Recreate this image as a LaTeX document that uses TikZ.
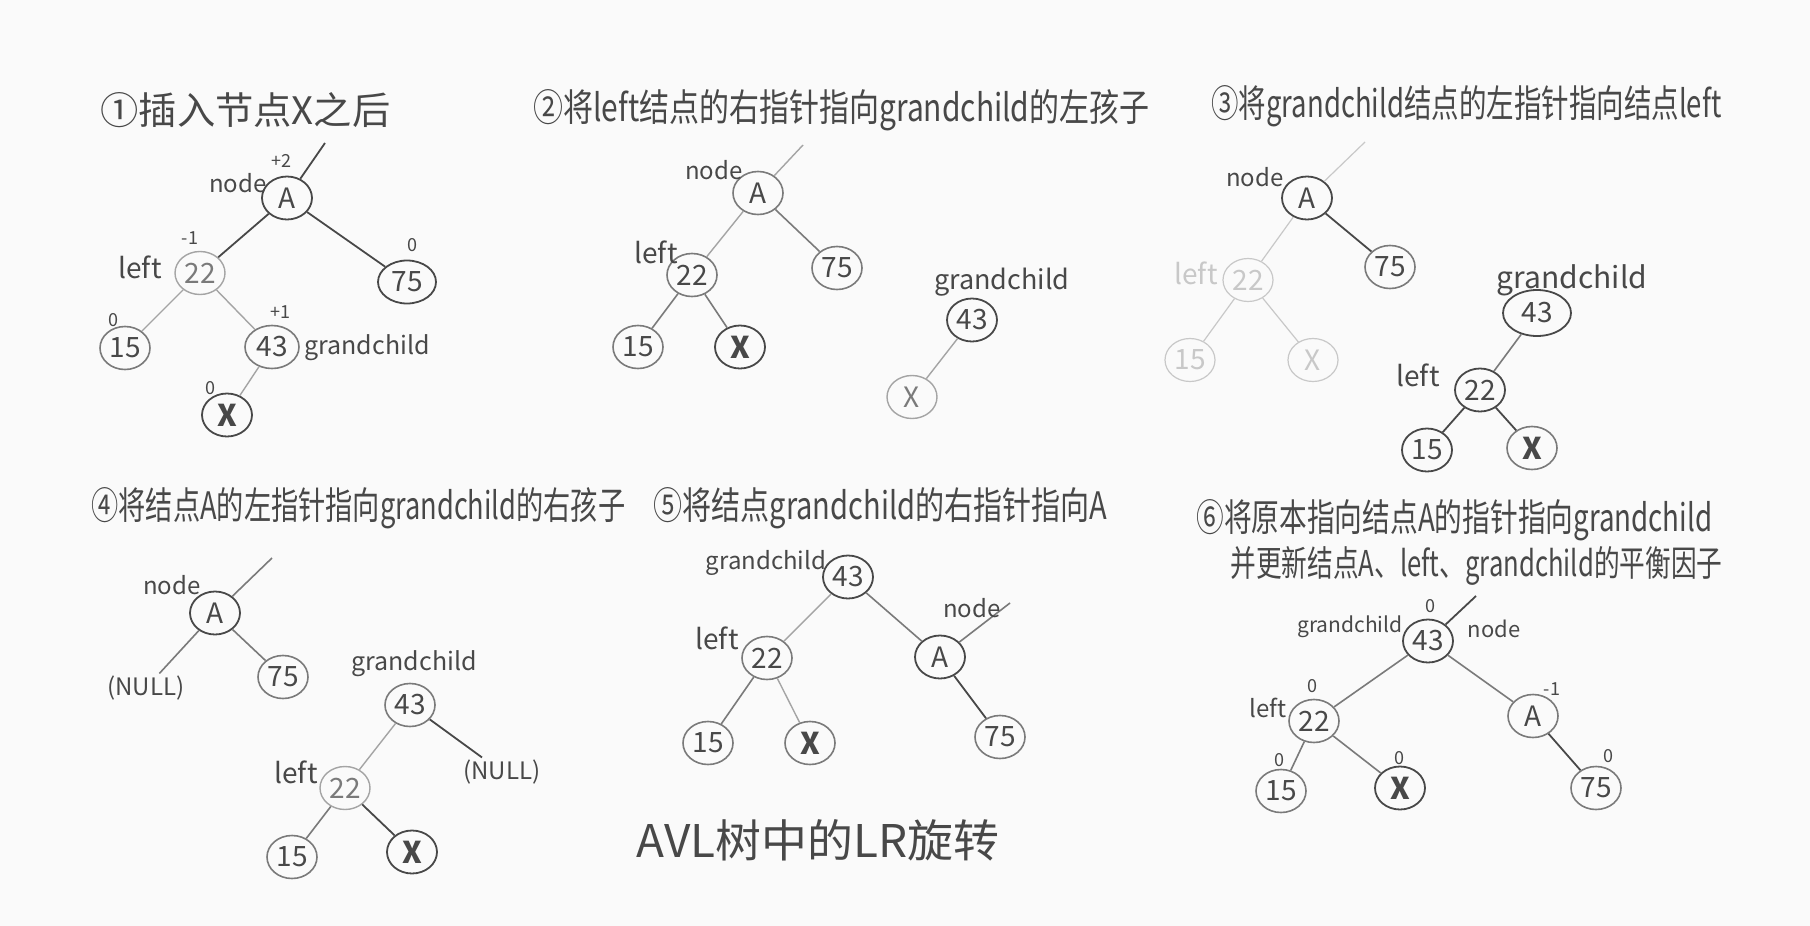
\documentclass[tikz,border=0pt]{standalone}
\usepackage{graphicx}
\usepackage{fontspec}
\setmainfont{Noto Sans CJK SC}
\usetikzlibrary{shapes.geometric}

\definecolor{paper}{HTML}{FAFAFA}
\definecolor{penD}{HTML}{484848}
\definecolor{penM}{HTML}{7A7A7A}
\definecolor{penL}{HTML}{A4A4A4}
\definecolor{penF}{HTML}{C8C8C8}

% fixed-size handwritten-style caption: width, height, text
\newcommand\fitbox[3]{\resizebox{#1}{#2}{#3}}

\tikzset{
  tn/.style={ellipse, draw=penM, line width=0.8pt, minimum width=25pt,
    minimum height=21.5pt, inner sep=0pt, text=penD,
    font=\fontsize{14}{14}\selectfont},
  dk/.style={draw=penD, text=penD, line width=0.9pt},
  md/.style={draw=penM, text=penD},
  lt/.style={draw=penL, text=penM, line width=0.7pt},
  fd/.style={draw=penF, text=penF, line width=0.6pt},
  xn/.style={font=\fontsize{15}{15}\selectfont\bfseries},
  edD/.style={draw=penD, line width=0.9pt},
  edM/.style={draw=penM, line width=0.8pt},
  edL/.style={draw=penL, line width=0.7pt},
  edF/.style={draw=penF, line width=0.6pt},
  lbl/.style={text=penD, inner sep=0pt, font=\fontsize{12}{12}\selectfont},
  lblL/.style={text=penL, inner sep=0pt, font=\fontsize{14}{14}\selectfont},
  lf/.style={text=penD, inner sep=0pt, font=\fontsize{14}{14}\selectfont},
  gc/.style={text=penD, inner sep=0pt, font=\fontsize{12.5}{12.5}\selectfont},
  bfac/.style={text=penD, inner sep=0pt, font=\fontsize{9}{9}\selectfont},
  nul/.style={text=penD, inner sep=1pt, font=\fontsize{12}{12}\selectfont},
  ttl/.style={anchor=west, inner sep=0pt, text=penD},
}

\begin{document}
\begin{tikzpicture}[x=0.5pt, y=-0.5pt]
\fill[paper] (0,0) rectangle (1810,926);
\useasboundingbox (0,0) rectangle (1810,926);

% ---------- step titles ----------
\node[ttl] (t1) at (100,110) {\fitbox{145pt}{16pt}{①插入节点X之后}};
\node[ttl] (t2) at (533,110) {\fitbox{308pt}{16pt}{②将left结点的右指针指向grandchild的左孩子}};
\node[ttl] (t3) at (1211,106) {\fitbox{255pt}{16pt}{③将grandchild结点的左指针指向结点left}};
\node[ttl] (t4) at (91,508) {\fitbox{267pt}{16pt}{④将结点A的左指针指向grandchild的右孩子}};
\node[ttl] (t5) at (653,508) {\fitbox{227pt}{16pt}{⑤将结点grandchild的右指针指向A}};
\node[ttl] (t6a) at (1196,520) {\fitbox{258pt}{16pt}{⑥将原本指向结点A的指针指向grandchild}};
\node[ttl] (t6b) at (1230,566) {\fitbox{246pt}{15pt}{并更新结点A、left、grandchild的平衡因子}};
\node[inner sep=0pt, text=penD] (cap) at (818,840) {\fitbox{181pt}{19pt}{AVL树中的LR旋转}};

% ---------- 1: after inserting X ----------
\node[tn, dk] (a1) at (287,198) {A};
\node[tn, lt] (b1) at (200,273) {22};
\node[tn, dk, minimum width=29pt] (c1) at (407,282) {75};
\node[tn, md] (d1) at (125,348) {15};
\node[tn, md, minimum width=27pt] (e1) at (272,347) {43};
\node[tn, dk, xn] (x1) at (227,415) {X};
\coordinate (s1) at (325,143);
\draw[edD] (a1) -- (s1);
\draw[edD] (a1) -- (b1);
\draw[edD] (a1) -- (c1);
\draw[edL] (b1) -- (d1);
\draw[edL] (b1) -- (e1);
\draw[edL] (e1) -- (x1);
\node[lbl] (n1) at (238,183) {node};
\node[bfac] (f1a) at (281,161) {+2};
\node[lf] (l1) at (140,267) {left};
\node[bfac] (f1b) at (190,238) {-1};
\node[bfac] (f1c) at (412,245) {0};
\node[bfac] (f1d) at (113,320) {0};
\node[bfac] (f1e) at (280,312) {+1};
\node[gc] (g1) at (367,348) {grandchild};
\node[bfac] (f1f) at (210,388) {0};

% ---------- 2: left's right pointer ----------
\node[tn, md] (a2) at (758,193) {A};
\node[tn, md] (b2) at (692,275) {22};
\node[tn, md] (c2) at (837,268) {75};
\node[tn, md] (d2) at (638,347) {15};
\node[tn, dk, xn] (x2) at (740,347) {X};
\node[tn, dk] (e2) at (972,320) {43};
\node[tn, lt, font=\fontsize{14}{14}\selectfont] (y2) at (912,397) {X};
\coordinate (s2) at (803,145);
\draw[edL] (a2) -- (s2);
\draw[edL] (a2) -- (b2);
\draw[edM] (a2) -- (c2);
\draw[edM] (b2) -- (d2);
\draw[edM] (b2) -- (x2);
\draw[edL] (e2) -- (y2);
\node[lbl] (n2) at (714,170) {node};
\node[lf] (l2) at (656,252) {left};
\node[gc, font=\fontsize{13.5}{13.5}\selectfont] (g2) at (1002,282) {grandchild};

% ---------- 3: grandchild's left pointer ----------
\node[tn, dk] (a3) at (1307,198) {A};
\node[tn, md] (c3) at (1390,267) {75};
\node[tn, fd] (b3f) at (1248,280) {22};
\node[tn, fd] (d3f) at (1190,360) {15};
\node[tn, fd] (x3f) at (1313,360) {X};
\node[tn, dk, minimum width=34pt, minimum height=23pt] (e3) at (1537,313) {43};
\node[tn, dk] (b3) at (1480,390) {22};
\node[tn, dk] (d3) at (1427,450) {15};
\node[tn, md, xn] (x3) at (1532,448) {X};
\coordinate (s3) at (1365,142);
\draw[edF] (a3) -- (s3);
\draw[edF] (a3) -- (b3f);
\draw[edD] (a3) -- (c3);
\draw[edF] (b3f) -- (d3f);
\draw[edF] (b3f) -- (x3f);
\draw[edM] (e3) -- (b3);
\draw[edD] (b3) -- (d3);
\draw[edD] (b3) -- (x3);
\node[lbl] (n3) at (1255,177) {node};
\node[lblL, text=penF] (l3f) at (1196,273) {left};
\node[gc, font=\fontsize{15}{15}\selectfont] (g3) at (1572,280) {grandchild};
\node[lf] (l3) at (1418,375) {left};

% ---------- 4: A's left pointer ----------
\node[tn, dk] (a4) at (215,613) {A};
\node[nul] (u4a) at (146,688) {(NULL)};
\node[tn, md] (c4) at (283,677) {75};
\node[tn, md] (e4) at (410,705) {43};
\node[nul] (u4b) at (502,772) {(NULL)};
\node[tn, lt] (b4) at (345,788) {22};
\node[tn, md] (d4) at (292,857) {15};
\node[tn, dk, xn] (x4) at (412,852) {X};
\coordinate (s4) at (272,558);
\draw[edM] (a4) -- (s4);
\draw[edM] (a4) -- (u4a);
\draw[edM] (a4) -- (c4);
\draw[edL] (e4) -- (b4);
\draw[edD] (e4) -- (u4b);
\draw[edM] (b4) -- (d4);
\draw[edD] (b4) -- (x4);
\node[lbl] (n4) at (172,585) {node};
\node[gc] (g4) at (414,664) {grandchild};
\node[lf] (l4) at (296,772) {left};

% ---------- 5: grandchild's right pointer ----------
\node[tn, dk] (e5) at (848,577) {43};
\node[tn, md] (b5) at (767,658) {22};
\node[tn, dk] (a5) at (940,657) {A};
\node[tn, md] (d5) at (708,743) {15};
\node[tn, md, xn] (x5) at (810,743) {X};
\node[tn, md] (c5) at (1000,737) {75};
\coordinate (s5) at (1010,603);
\draw[edL] (e5) -- (b5);
\draw[edM] (e5) -- (a5);
\draw[edM] (a5) -- (s5);
\draw[edD] (a5) -- (c5);
\draw[edM] (b5) -- (d5);
\draw[edL] (b5) -- (x5);
\node[gc, font=\fontsize{12}{12}\selectfont] (g5) at (766,563) {grandchild};
\node[lf] (l5) at (717,638) {left};
\node[lbl] (n5) at (972,608) {node};

% ---------- 6: re-link parent and update balance ----------
\node[tn, dk] (e6) at (1428,641) {43};
\node[tn, md] (b6) at (1314,721) {22};
\node[tn, md] (a6) at (1533,716) {A};
\node[tn, md] (d6) at (1281,791) {15};
\node[tn, dk, xn] (x6) at (1400,788) {X};
\node[tn, md] (c6) at (1596,788) {75};
\coordinate (s6) at (1476,596);
\draw[edD] (e6) -- (s6);
\draw[edM] (e6) -- (b6);
\draw[edM] (e6) -- (a6);
\draw[edM] (b6) -- (d6);
\draw[edM] (b6) -- (x6);
\draw[edD] (a6) -- (c6);
\node[gc, font=\fontsize{10.5}{10.5}\selectfont] (g6) at (1350,627) {grandchild};
\node[lbl, font=\fontsize{11}{11}\selectfont] (n6) at (1494,629) {node};
\node[bfac] (f6a) at (1430,606) {0};
\node[lf, font=\fontsize{12}{12}\selectfont] (l6) at (1268,708) {left};
\node[bfac] (f6b) at (1312,686) {0};
\node[bfac] (f6c) at (1552,689) {-1};
\node[bfac] (f6d) at (1279,760) {0};
\node[bfac] (f6e) at (1399,758) {0};
\node[bfac] (f6f) at (1608,756) {0};
\end{tikzpicture}
\end{document}
